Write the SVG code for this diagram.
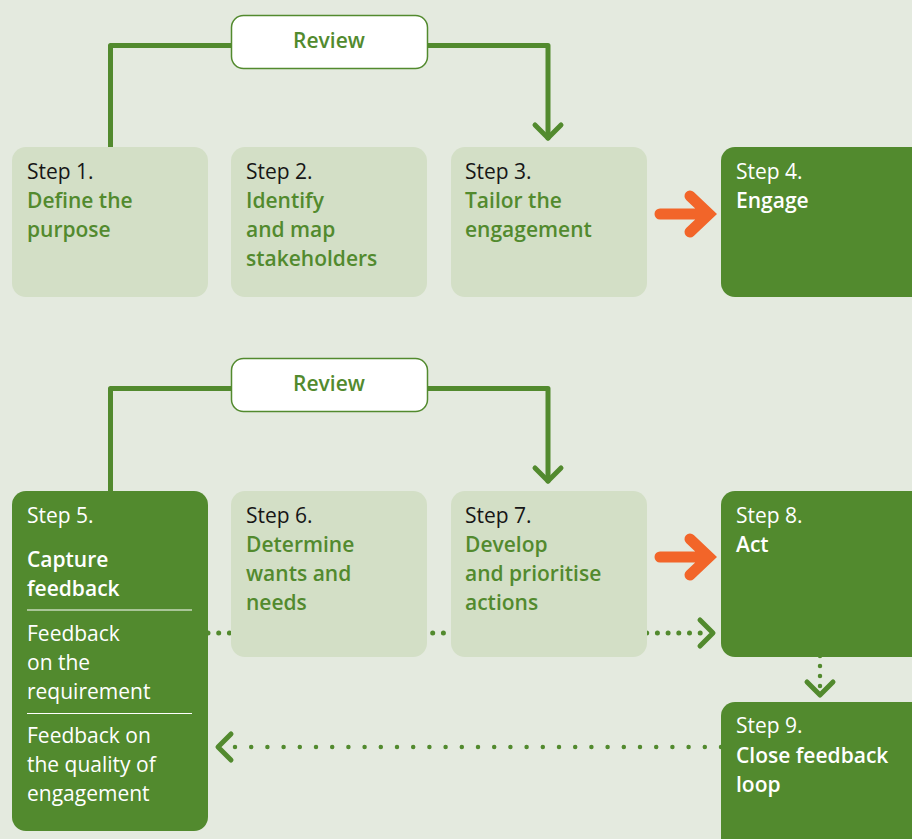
<svg xmlns="http://www.w3.org/2000/svg" width="912" height="839" viewBox="0 0 912 839">
<style>
text{font-family:"Open Sans","Noto Sans","Liberation Sans",sans-serif;font-size:21px}
.light{fill:#d3dfc6}
.dark{fill:#528a2e}
.rev{fill:#ffffff;stroke:#528a2e;stroke-width:1.5}
.step{fill:#161616}
.stepw{fill:#ffffff}
.title{fill:#528a2e;font-weight:600}
.titlew{fill:#ffffff;font-weight:600}
.body{fill:#ffffff}
.revt{fill:#528a2e;font-weight:600;text-anchor:middle}
.solid{fill:none;stroke:#528a2e;stroke-width:5;stroke-linejoin:round;stroke-linecap:round}
.orange{fill:none;stroke:#f26529;stroke-width:11;stroke-linecap:round;stroke-linejoin:miter}
.dot{fill:none;stroke:#528a2e;stroke-width:5;stroke-linecap:round}
.sep{stroke:#ffffff;stroke-width:1.2}
</style>
<rect width="912" height="839" fill="#e4eadf"/>
<g id="connectors">
  <polyline class="solid" points="110.5,147 110.5,45.5 231,45.5"/>
  <polyline class="solid" points="428,45.5 548,45.5 548,138"/>
  <polyline class="solid" points="535,125 548,138 561,125"/>
  <polyline class="solid" points="110.5,491 110.5,388.5 231,388.5"/>
  <polyline class="solid" points="428,388.5 548,388.5 548,481"/>
  <polyline class="solid" points="535,468 548,481 561,468"/>
  <line class="dot" x1="208" y1="633" x2="705" y2="633" stroke-dasharray="0 10.7"/>
  <polyline class="solid" points="700,620 713,633 700,646"/>
  <line class="dot" x1="820" y1="656" x2="820" y2="690" stroke-dasharray="0 10" style="stroke-width:4.5"/>
  <polyline class="solid" points="807,682 820,695 833,682"/>
  <line class="dot" x1="721" y1="747" x2="228" y2="747" stroke-dasharray="0 16.2" style="stroke-width:4.5"/>
  <polyline class="solid" points="231,734 218,747 231,760"/>
</g>
<g id="orange-arrows">
  <path class="orange" d="M660,214 H706 M690,196 L709,214 L690,232"/>
  <path class="orange" d="M660,557 H706 M690,539 L709,557 L690,575"/>
</g>
<g id="review1">
  <rect class="rev" x="231.5" y="15.5" width="196" height="53" rx="12"/>
  <text class="revt" x="329" y="48">Review</text>
</g>
<g id="review2">
  <rect class="rev" x="231.5" y="358.5" width="196" height="53" rx="12"/>
  <text class="revt" x="329" y="391">Review</text>
</g>
<g id="step1">
  <rect class="light" x="12" y="147" width="196" height="150" rx="14"/>
  <text class="step" x="27" y="179">Step 1.</text>
  <text class="title" x="27" y="208">Define the</text>
  <text class="title" x="27" y="237">purpose</text>
</g>
<g id="step2">
  <rect class="light" x="231" y="147" width="196" height="150" rx="14"/>
  <text class="step" x="246" y="179">Step 2.</text>
  <text class="title" x="246" y="208">Identify</text>
  <text class="title" x="246" y="237">and map</text>
  <text class="title" x="246" y="266">stakeholders</text>
</g>
<g id="step3">
  <rect class="light" x="451" y="147" width="196" height="150" rx="14"/>
  <text class="step" x="465" y="179">Step 3.</text>
  <text class="title" x="465" y="208">Tailor the</text>
  <text class="title" x="465" y="237">engagement</text>
</g>
<g id="step4">
  <rect class="dark" x="721" y="147" width="220" height="150" rx="14"/>
  <text class="stepw" x="736" y="179">Step 4.</text>
  <text class="titlew" x="736" y="208">Engage</text>
</g>
<g id="step5">
  <rect class="dark" x="12" y="491" width="196" height="340" rx="14"/>
  <text class="stepw" x="27" y="523">Step 5.</text>
  <text class="titlew" x="27" y="567">Capture</text>
  <text class="titlew" x="27" y="596">feedback</text>
  <line class="sep" x1="27" y1="610" x2="192" y2="610"/>
  <text class="body" x="27" y="641">Feedback</text>
  <text class="body" x="27" y="670">on the</text>
  <text class="body" x="27" y="699">requirement</text>
  <line class="sep" x1="27" y1="713.5" x2="192" y2="713.5"/>
  <text class="body" x="27" y="743">Feedback on</text>
  <text class="body" x="27" y="772">the quality of</text>
  <text class="body" x="27" y="801">engagement</text>
</g>
<g id="step6">
  <rect class="light" x="231" y="491" width="196" height="166" rx="14"/>
  <text class="step" x="246" y="523">Step 6.</text>
  <text class="title" x="246" y="552">Determine</text>
  <text class="title" x="246" y="581">wants and</text>
  <text class="title" x="246" y="610">needs</text>
</g>
<g id="step7">
  <rect class="light" x="451" y="491" width="196" height="166" rx="14"/>
  <text class="step" x="465" y="523">Step 7.</text>
  <text class="title" x="465" y="552">Develop</text>
  <text class="title" x="465" y="581">and prioritise</text>
  <text class="title" x="465" y="610">actions</text>
</g>
<g id="step8">
  <rect class="dark" x="721" y="491" width="220" height="166" rx="14"/>
  <text class="stepw" x="736" y="523">Step 8.</text>
  <text class="titlew" x="736" y="552">Act</text>
</g>
<g id="step9">
  <rect class="dark" x="721" y="702" width="220" height="160" rx="14"/>
  <text class="stepw" x="736" y="733">Step 9.</text>
  <text class="titlew" x="736" y="763">Close feedback</text>
  <text class="titlew" x="736" y="792">loop</text>
</g>
</svg>
